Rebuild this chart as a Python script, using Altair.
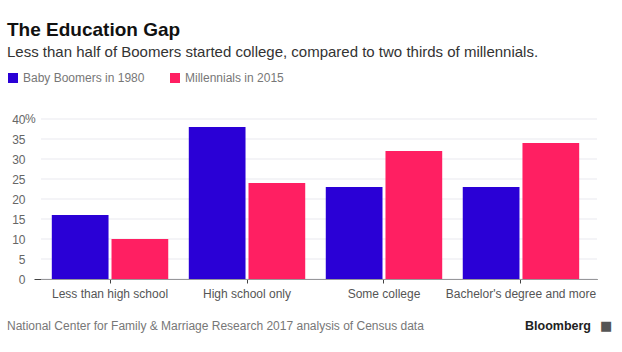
import altair as alt
import pandas as pd

categories = ["Less than high school", "High school only", "Some college", "Bachelor's degree and more"]
series = ["Baby Boomers in 1980", "Millennials in 2015"]
boomers = [16, 38, 23, 23]
millennials = [10, 24, 32, 34]
y_ticks = [0, 5, 10, 15, 20, 25, 30, 35, 40]
colors = ["#2A00D6", "#FF1F62"]

TITLE = "The Education Gap"
SUBTITLE = "Less than half of Boomers started college, compared to two thirds of millennials."
SOURCE = "National Center for Family & Marriage Research 2017 analysis of Census data"
BRAND = "Bloomberg"

FONT = "Liberation Sans"

rows = []
for c, b, m in zip(categories, boomers, millennials):
    rows.append({"Category": c, "Series": series[0], "Value": b})
    rows.append({"Category": c, "Series": series[1], "Value": m})
df = pd.DataFrame(rows)
ticks_df = pd.DataFrame({"Value": y_ticks})

W, H = 563, 160

yscale = alt.Scale(domain=[0, 40])
yaxis = alt.Axis(values=y_ticks, grid=False, domain=False, ticks=False,
                 labelPadding=9, labelFontSize=12, labelColor="#666",
                 labelFont=FONT, title=None, labelOverlap=False)

grid = alt.Chart(ticks_df).mark_rule(color="#e9e9ef", strokeWidth=1).encode(
    y=alt.Y("Value:Q", scale=yscale, axis=yaxis),
    x=alt.value(7), x2=alt.value(W),
)

bars = alt.Chart(df).mark_bar().encode(
    x=alt.X("Category:N", sort=categories,
            scale=alt.Scale(paddingInner=0.15, paddingOuter=0.13),
            axis=alt.Axis(title=None, labelAngle=0, labelFontSize=12, labelColor="#555",
                          labelFont=FONT, domainColor="#444", tickColor="#444",
                          tickSize=4, labelPadding=5, grid=False)),
    xOffset=alt.XOffset("Series:N", sort=series, scale=alt.Scale(paddingInner=0.05)),
    y=alt.Y("Value:Q", scale=yscale, axis=yaxis),
    color=alt.Color("Series:N", sort=series,
                    scale=alt.Scale(domain=series, range=colors),
                    legend=alt.Legend(orient="none", legendX=-27, legendY=-47,
                                      direction="horizontal", title=None,
                                      symbolType="square", symbolSize=100,
                                      symbolStrokeWidth=0, symbolOpacity=1,
                                      labelFontSize=12, labelColor="#777",
                                      labelFont=FONT, columnPadding=24, padding=0)),
)

pct = alt.Chart(pd.DataFrame({"Value": [40], "t": ["%"]})).mark_text(
    align="left", baseline="middle", fontSize=12, color="#666", font=FONT
).encode(y=alt.Y("Value:Q", scale=yscale, axis=yaxis), x=alt.value(-9), text="t:N")

def txt(s, x, y, size, color, weight="normal", align="left", font=FONT, baseline="alphabetic"):
    return alt.Chart(pd.DataFrame({"t": [s]})).mark_text(
        align=align, baseline=baseline, fontSize=size, color=color,
        fontWeight=weight, font=font
    ).encode(x=alt.value(x), y=alt.value(y), text="t:N")

title = txt(TITLE, -27, -83, 19, "#111", "bold")
subtitle = txt(SUBTITLE, -27, -62, 15, "#333")
source = txt(SOURCE, -27, 211, 12, "#777")
brand = txt(BRAND, 557, 211, 12.5, "#222", "bold", "right")
icon = txt("\u25a0", 566, 207, 13, "#555", font="DejaVu Sans", baseline="middle")

chart = alt.layer(grid, bars, pct, title, subtitle, source, brand, icon).properties(
    width=W, height=H,
    background="white",
    autosize=alt.AutoSizeParams(type="none"),
    padding={"left": 34, "top": 119, "right": 25, "bottom": 73},
).configure_view(stroke=None)

chart.save("out.html", embed_options={"renderer": "svg", "actions": False})
